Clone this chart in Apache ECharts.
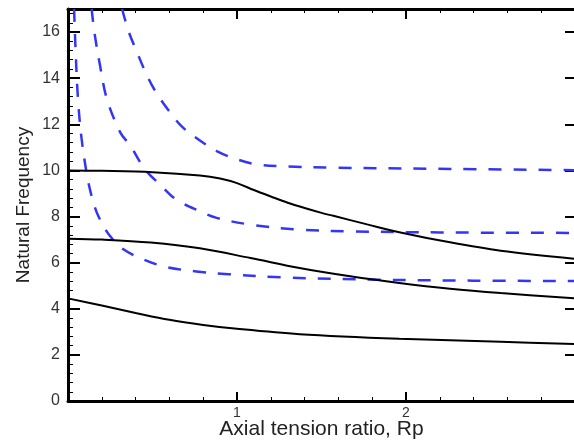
<!DOCTYPE html>
<html>
<head>
<meta charset="utf-8">
<script src="https://cdn.jsdelivr.net/npm/echarts@6/dist/echarts.min.js"></script>
<style>
html,body{margin:0;padding:0;background:#fff;}
#chart{width:574px;height:440px;}
</style>
</head>
<body>
<div id="chart"></div>
<script>
// Solid black curves
var solidTopX = [0, 0.2, 0.5, 0.78, 0.9, 1.0, 1.1, 1.2, 1.3, 1.4, 1.5, 1.57, 1.77, 1.96, 2.26, 2.56, 3.0];
var solidTopY = [10.0, 9.98, 9.92, 9.78, 9.65, 9.45, 9.15, 8.87, 8.6, 8.37, 8.16, 8.03, 7.66, 7.32, 6.88, 6.52, 6.17];

var solidMidX = [0, 0.2, 0.49, 0.78, 1.08, 1.37, 1.67, 1.96, 2.26, 2.56, 3.0];
var solidMidY = [7.04, 7.0, 6.87, 6.62, 6.2, 5.77, 5.41, 5.12, 4.87, 4.68, 4.45];

var solidLowX = [0, 0.2, 0.4, 0.6, 0.8, 1.0, 1.37, 1.96, 2.56, 3.0];
var solidLowY = [4.45, 4.14, 3.82, 3.52, 3.3, 3.13, 2.9, 2.7, 2.57, 2.47];

// Dashed blue curves
var dashLowX = [0.036, 0.045, 0.059, 0.08, 0.11, 0.14, 0.18, 0.25, 0.33, 0.45, 0.58, 0.76, 0.95, 1.27, 1.86, 2.4, 3.0];
var dashLowY = [17.0, 15.2, 13.1, 11.4, 9.9, 8.88, 8.01, 7.14, 6.57, 6.13, 5.81, 5.62, 5.5, 5.36, 5.26, 5.22, 5.2];

var dashMidX = [0.14, 0.156, 0.19, 0.23, 0.31, 0.37, 0.456, 0.55, 0.64, 0.78, 0.88, 1.08, 1.37, 1.67, 2.2, 3.0];
var dashMidY = [17.0, 16.0, 14.53, 13.1, 11.64, 11.06, 10.04, 9.35, 8.74, 8.23, 7.94, 7.65, 7.43, 7.36, 7.31, 7.29];

var dashTopX = [0.32, 0.36, 0.41, 0.456, 0.51, 0.59, 0.67, 0.77, 0.88, 1.0, 1.12, 1.3, 1.57, 2.16, 3.0];
var dashTopY = [17.0, 16.0, 15.1, 14.3, 13.52, 12.65, 11.93, 11.35, 10.84, 10.48, 10.26, 10.17, 10.12, 10.07, 10.01];

var xTitle = 'Axial tension ratio, Rp';
var yTitle = 'Natural Frequency';

function pairs(xs, ys){ return xs.map(function(x,i){ return [x, ys[i]]; }); }

var FONT = '"Liberation Sans", Arial, sans-serif';
var chart = echarts.init(document.getElementById('chart'));

function solid(xs, ys){
  return {type:'line', data:pairs(xs,ys), showSymbol:false, smooth:0.35,
    lineStyle:{color:'#000', width:2}, silent:true, animation:false, clip:true};
}
function dashed(xs, ys){
  return {type:'line', data:pairs(xs,ys), showSymbol:false, smooth:0.35,
    lineStyle:{color:'#3535f5', width:2.5, type:[13,12]}, silent:true, animation:false, clip:true};
}

chart.setOption({
  animation:false,
  backgroundColor:'#fff',
  grid:{left:68, right:-1, top:9, bottom:39, outerBoundsMode:'none', containLabel:false},
  xAxis:[{
    type:'value', min:0, max:3, interval:1, position:'bottom',
    name:xTitle, nameLocation:'middle', nameGap:18, nameMoveOverlap:false,
    nameTextStyle:{fontFamily:FONT, fontSize:21, color:'#222'},
    axisLine:{show:true, onZero:false, lineStyle:{color:'#000', width:3}},
    axisTick:{show:true, inside:true, length:9, lineStyle:{color:'#000', width:2}},
    minorTick:{show:true, splitNumber:5, length:4, lineStyle:{color:'#000', width:1}},
    axisLabel:{showMinLabel:false, showMaxLabel:false, fontFamily:FONT, fontSize:14, color:'#333', margin:5},
    splitLine:{show:false}, minorSplitLine:{show:false}
  },{
    type:'value', min:0, max:3, interval:1, position:'top',
    axisLine:{show:true, onZero:false, lineStyle:{color:'#000', width:3}},
    axisTick:{show:true, inside:true, length:10, lineStyle:{color:'#000', width:2}},
    minorTick:{show:true, splitNumber:5, length:4, lineStyle:{color:'#000', width:1}},
    axisLabel:{show:false}, splitLine:{show:false}
  }],
  yAxis:[{
    type:'value', min:0, max:17, interval:2, position:'left',
    name:yTitle, nameLocation:'middle', nameGap:35, nameRotate:90, nameMoveOverlap:false,
    nameTextStyle:{fontFamily:FONT, fontSize:19, color:'#222'},
    axisLine:{show:true, onZero:false, lineStyle:{color:'#000', width:3}},
    axisTick:{show:true, inside:true, length:12, lineStyle:{color:'#000', width:2}},
    minorTick:{show:true, splitNumber:5, length:5, lineStyle:{color:'#000', width:1}},
    axisLabel:{showMaxLabel:false, fontFamily:FONT, fontSize:16, color:'#333', margin:8},
    splitLine:{show:false}, minorSplitLine:{show:false}
  },{
    type:'value', min:0, max:17, interval:2, position:'right',
    axisLine:{show:true, onZero:false, lineStyle:{color:'#000', width:3}},
    axisTick:{show:true, inside:true, length:10, lineStyle:{color:'#000', width:2}},
    axisLabel:{show:false}, splitLine:{show:false}
  }],
  series:[
    dashed(dashLowX, dashLowY),
    dashed(dashMidX, dashMidY),
    dashed(dashTopX, dashTopY),
    solid(solidTopX, solidTopY),
    solid(solidMidX, solidMidY),
    solid(solidLowX, solidLowY)
  ]
});
</script>
</body>
</html>
